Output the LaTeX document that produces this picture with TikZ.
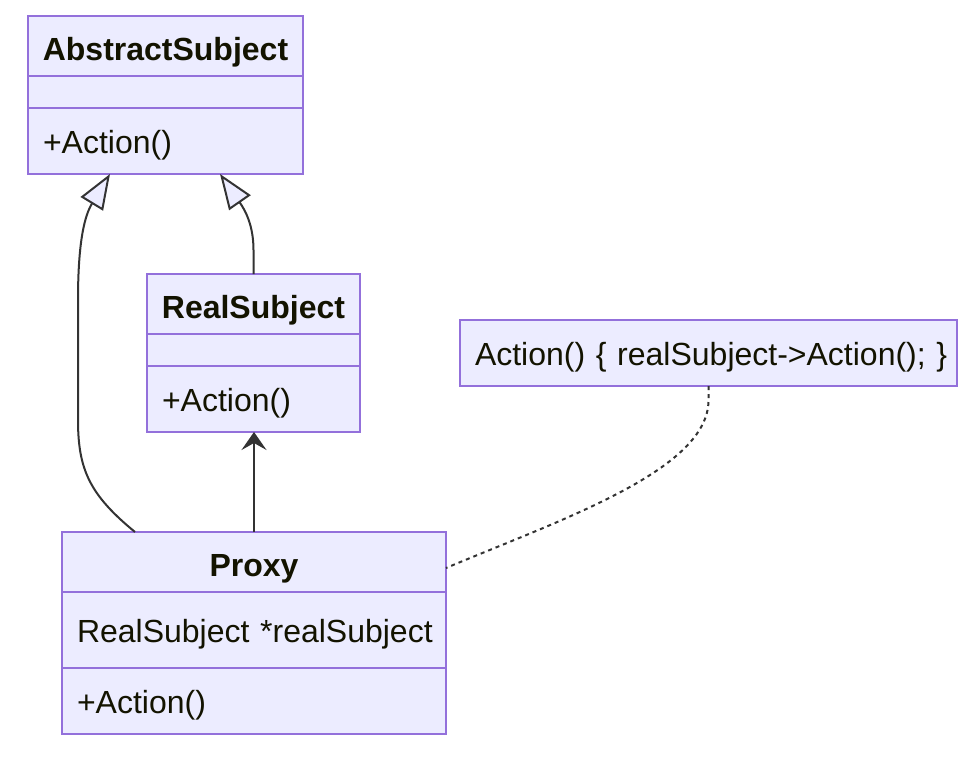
\documentclass[tikz,border=0pt]{standalone}
\usepackage{fontspec}
\setmainfont{Liberation Sans}
\usetikzlibrary{positioning, arrows.meta}
\definecolor{classfill}{HTML}{ECECFF}
\definecolor{classline}{HTML}{9370DB}
\definecolor{edgeline}{HTML}{333333}
\definecolor{classtext}{HTML}{131300}

\begin{document}
\begin{tikzpicture}[x=1pt, y=-1pt,
    classtitle/.style={rectangle, draw=classline, fill=classfill, text=classtext, line width=2pt, outer sep=0pt, inner sep=0pt, minimum height=60pt, text height=30pt, text depth=2pt, anchor=north, font=\fontsize{32}{38}\selectfont\bfseries},
    classbody/.style={rectangle, draw=classline, fill=classfill, text=classtext, line width=2pt, outer sep=0pt, inner xsep=15pt, inner ysep=0pt, text height=27pt, text depth=3pt, align=left, font=\fontsize{32}{38}\selectfont},
    notebox/.style={rectangle, draw=classline, fill=classfill, text=classtext, line width=2pt, outer sep=0pt, inner xsep=15pt, inner ysep=0pt, minimum height=66pt, text height=27pt, text depth=3pt, align=center, font=\fontsize{32}{38}\selectfont},
    inherit/.style={-{Triangle[length=35pt, width=26pt, fill=classfill]}, draw=edgeline, line width=2pt},
    assoc/.style={-{Stealth[length=18pt, width=25pt, inset=7pt]}, draw=edgeline, line width=2pt},
    link/.style={draw=edgeline, line width=2pt, dash pattern=on 4pt off 4pt}
]
    \useasboundingbox (0,0) rectangle (980,756);

    % AbstractSubject
    \node[classtitle, minimum width=275pt] (abstractTitle) at (165.5,16) {AbstractSubject};
    \node[classbody, text width=245pt, minimum height=32pt, text height=0pt, text depth=0pt, below=0pt of abstractTitle] (abstractAttr) {};
    \node[classbody, text width=245pt, minimum height=66pt, below=0pt of abstractAttr] (abstractMeth) {+Action()};

    % RealSubject
    \node[classtitle, minimum width=213pt] (realTitle) at (253.5,274) {RealSubject};
    \node[classbody, text width=183pt, minimum height=32pt, text height=0pt, text depth=0pt, below=0pt of realTitle] (realAttr) {};
    \node[classbody, text width=183pt, minimum height=66pt, below=0pt of realAttr] (realMeth) {+Action()};

    % Proxy
    \node[classtitle, minimum width=384pt] (proxyTitle) at (254,532) {Proxy};
    \node[classbody, text width=354pt, minimum height=76pt, below=0pt of proxyTitle] (proxyAttr) {\mbox{RealSubject *realSubject}};
    \node[classbody, text width=354pt, minimum height=66pt, below=0pt of proxyAttr] (proxyMeth) {+Action()};

    % Note
    \node[notebox, text width=467pt] (note) at (708.5,353) {\mbox{Action() \{ realSubject->Action(); \}}};

    % Inheritance
    \draw[inherit] ([xshift=-119pt]proxyTitle.north) .. controls (90,495) and (78,470) .. (78,420) -- (78,300) .. controls (78,240) and (85,215) .. ([xshift=-55.5pt]abstractMeth.south);
    \draw[inherit] (realTitle.north) -- (253.5,250) .. controls (253.5,225) and (245,210) .. ([xshift=54.5pt]abstractMeth.south);

    % Association
    \draw[assoc] (proxyTitle.north) -- (proxyTitle.north |- realMeth.south);

    % Note link
    \draw[link] (note.south) -- ++(0,14) .. controls (709,470) and (560,520) .. ([yshift=-6pt]proxyTitle.east);

\end{tikzpicture}
\end{document}
